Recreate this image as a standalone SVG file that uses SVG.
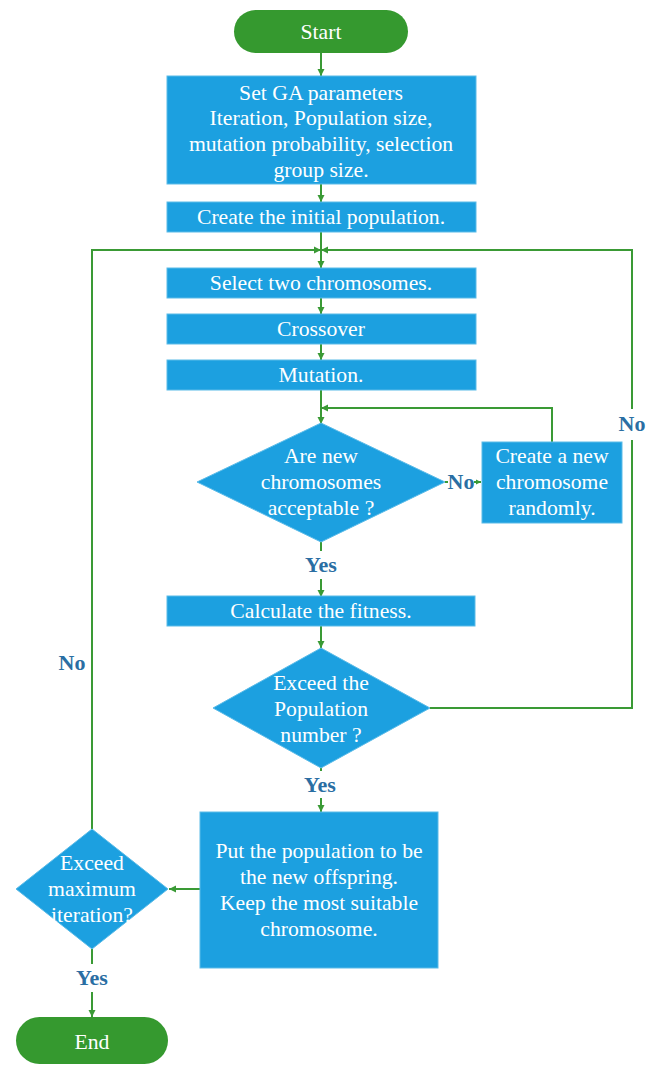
<svg xmlns="http://www.w3.org/2000/svg" width="662" height="1065" viewBox="0 0 662 1065">
<style>
.box{fill:#1ca0e0;stroke:#5bbbe8;stroke-width:1}
.term{fill:#35992f}
.t{font-family:"Liberation Serif","Times New Roman",serif;font-size:21.7px;fill:#ffffff;text-anchor:middle}
.lbl{font-family:"Liberation Serif","Times New Roman",serif;font-size:22px;font-weight:bold;fill:#2a6ea3;text-anchor:middle}
.ln{fill:none;stroke:#3a9a35;stroke-width:2}
</style>
<defs>
<marker id="ah" markerUnits="userSpaceOnUse" markerWidth="8" markerHeight="8" refX="7" refY="4" orient="auto">
<path d="M0,0.5 L7,4 L0,7.5 z" fill="#3a9a35"/>
</marker>
<marker id="ahs" markerUnits="userSpaceOnUse" markerWidth="6" markerHeight="6" refX="5" refY="3" orient="auto">
<path d="M0,0.5 L5,3 L0,5.5 z" fill="#3a9a35"/>
</marker>
</defs>
<g id="connectors">
<path class="ln" d="M321,53 V76" marker-end="url(#ah)"/>
<path class="ln" d="M321,184 V202" marker-end="url(#ah)"/>
<path class="ln" d="M321,232 V268" marker-end="url(#ah)"/>
<path class="ln" d="M321,298 V314" marker-end="url(#ah)"/>
<path class="ln" d="M321,344 V360" marker-end="url(#ah)"/>
<path class="ln" d="M321,390 V424" marker-end="url(#ah)"/>
<path class="ln" d="M552,442 V408 H321" marker-end="url(#ah)"/>
<path class="ln" d="M445,482 H448"/>
<path class="ln" d="M474,482 H481" marker-end="url(#ahs)"/>
<path class="ln" d="M321,542 V551"/>
<path class="ln" d="M321,579 V597" marker-end="url(#ah)"/>
<path class="ln" d="M321,626 V648" marker-end="url(#ah)"/>
<path class="ln" d="M430,708 H632 V440"/>
<path class="ln" d="M632,409 V250 H321" marker-end="url(#ah)"/>
<path class="ln" d="M321,768 V771"/>
<path class="ln" d="M321,798 V812" marker-end="url(#ah)"/>
<path class="ln" d="M200,889 H169" marker-end="url(#ah)"/>
<path class="ln" d="M92,829 V250 H321" marker-end="url(#ah)"/>
<path class="ln" d="M92,949 V964"/>
<path class="ln" d="M92,992 V1017" marker-end="url(#ah)"/>
</g>
<g id="start">
<rect class="term" x="234" y="10" width="174" height="43" rx="21.5"/>
<text class="t" x="321" y="39">Start</text>
</g>
<g id="params">
<rect class="box" x="167" y="76" width="309" height="108"/>
<text class="t" x="321" y="100">Set GA parameters</text>
<text class="t" x="321" y="125">Iteration, Population size,</text>
<text class="t" x="321" y="151">mutation probability, selection</text>
<text class="t" x="321" y="177">group size.</text>
</g>
<g id="init">
<rect class="box" x="167" y="202" width="309" height="30"/>
<text class="t" x="321" y="224">Create the initial population.</text>
</g>
<g id="select">
<rect class="box" x="167" y="268" width="309" height="30"/>
<text class="t" x="321" y="290">Select two chromosomes.</text>
</g>
<g id="crossover">
<rect class="box" x="167" y="314" width="309" height="30"/>
<text class="t" x="321" y="336">Crossover</text>
</g>
<g id="mutation">
<rect class="box" x="167" y="360" width="309" height="30"/>
<text class="t" x="321" y="382">Mutation.</text>
</g>
<g id="acceptable">
<polygon class="box" points="321,423 445,482 321,542 197,482"/>
<text class="t" x="321" y="463">Are new</text>
<text class="t" x="321" y="489">chromosomes</text>
<text class="t" x="321" y="515">acceptable ?</text>
</g>
<g id="label-no1"><text class="lbl" x="461" y="489">No</text></g>
<g id="random">
<rect class="box" x="482" y="442" width="140" height="81"/>
<text class="t" x="552" y="463">Create a new</text>
<text class="t" x="552" y="489">chromosome</text>
<text class="t" x="552" y="515">randomly.</text>
</g>
<g id="label-yes1"><text class="lbl" x="321" y="572">Yes</text></g>
<g id="fitness">
<rect class="box" x="167" y="596" width="308" height="30"/>
<text class="t" x="321" y="618">Calculate the fitness.</text>
</g>
<g id="popnum">
<polygon class="box" points="321,648 430,708 321,768 213,708"/>
<text class="t" x="321" y="690">Exceed the</text>
<text class="t" x="321" y="716">Population</text>
<text class="t" x="321" y="742">number ?</text>
</g>
<g id="label-no2"><text class="lbl" x="632" y="431">No</text></g>
<g id="label-yes2"><text class="lbl" x="320" y="792">Yes</text></g>
<g id="offspring">
<rect class="box" x="200" y="812" width="238" height="156"/>
<text class="t" x="319" y="858">Put the population to be</text>
<text class="t" x="319" y="884">the new offspring.</text>
<text class="t" x="319" y="910">Keep the most suitable</text>
<text class="t" x="319" y="936">chromosome.</text>
</g>
<g id="maxiter">
<polygon class="box" points="92,829 168,889 92,949 16,889"/>
<text class="t" x="92" y="870">Exceed</text>
<text class="t" x="92" y="896">maximum</text>
<text class="t" x="92" y="922">iteration?</text>
</g>
<g id="label-no3"><text class="lbl" x="72" y="670">No</text></g>
<g id="label-yes3"><text class="lbl" x="92" y="985">Yes</text></g>
<g id="end">
<rect class="term" x="16" y="1017" width="152" height="47" rx="23.5"/>
<text class="t" x="92" y="1049">End</text>
</g>
</svg>
